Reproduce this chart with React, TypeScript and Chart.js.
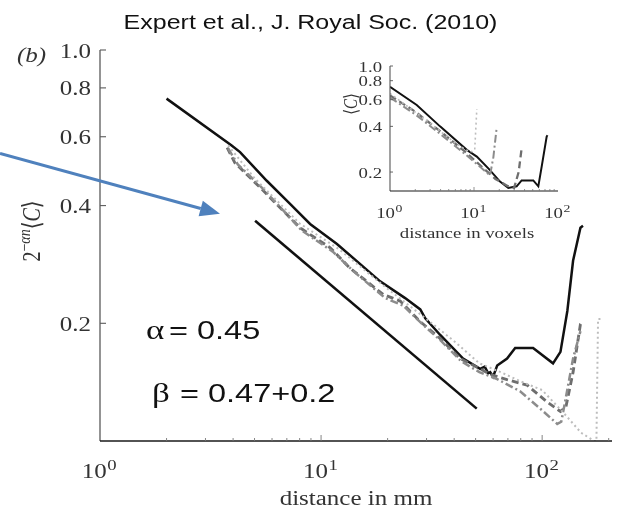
import React, { useEffect, useRef } from "react";
import { Chart, registerables } from "chart.js";

Chart.register(...registerables);

// ---------------- data: main panel ----------------
const MAIN_SOLID_X = [2.0, 3.94, 4.3, 5.68, 7.24, 8.92, 11.8, 18.5, 24, 28.1, 29.6, 34.5, 43.9, 52.4, 55, 57, 58.2, 60, 62.6, 69.4, 75.5, 91, 112, 121, 130, 138, 149, 153];
const MAIN_SOLID_Y = [0.751, 0.57, 0.548, 0.463, 0.404, 0.359, 0.319, 0.256, 0.232, 0.217, 0.206, 0.187, 0.1625, 0.153, 0.155, 0.149, 0.15, 0.146, 0.156, 0.1625, 0.173, 0.173, 0.158, 0.169, 0.215, 0.289, 0.351, 0.355];

const MAIN_DASH_X = [3.76, 4.07, 5.3, 8.03, 11.0, 13.5, 19.1, 22.8, 28.1, 34.5, 42.6, 52.4, 58.2, 69.4, 85.5, 105, 121, 128, 138, 149, 153];
const MAIN_DASH_Y = [0.563, 0.515, 0.445, 0.351, 0.312, 0.277, 0.237, 0.228, 0.202, 0.183, 0.1625, 0.153, 0.148, 0.1435, 0.139, 0.126, 0.119, 0.122, 0.15, 0.199, 0.202];

const MAIN_DASHDOT_X = [3.8, 4.2, 5.5, 8.2, 11.3, 14, 19.5, 23.5, 29, 35, 43, 52, 62.6, 79.5, 98, 117, 122, 127, 138, 149];
const MAIN_DASHDOT_Y = [0.56, 0.51, 0.44, 0.345, 0.305, 0.272, 0.232, 0.222, 0.198, 0.18, 0.16, 0.15, 0.144, 0.134, 0.121, 0.1106, 0.112, 0.126, 0.1625, 0.191];

const MAIN_DOT_X = [3.8, 5, 8, 12, 20, 30, 40, 52, 65, 80, 100, 125, 150, 172, 176, 179, 185];
const MAIN_DOT_Y = [0.57, 0.47, 0.36, 0.31, 0.245, 0.205, 0.18, 0.158, 0.15, 0.142, 0.135, 0.118, 0.105, 0.1, 0.1, 0.205, 0.205];

const FIT_X = [5.03, 50.6];
const FIT_Y = [0.366, 0.121];

const MAIN_Y_TICKS = [0.2, 0.4, 0.6, 0.8, 1.0];
const MAIN_Y_LABELS = ["0.2", "0.4", "0.6", "0.8", "1.0"];
const MAIN_X_MAJOR = [1, 10, 100];
const MAIN_X_EXP = ["0", "1", "2"];
const MAIN_X_MINOR = [2, 3, 4, 5, 6, 7, 8, 9, 20, 30, 40, 50, 60, 70, 80, 90, 200];

const ARROW_FROM = { x: 0.353, y: 0.544 };
const ARROW_TO = { x: 3.49, y: 0.381 };

// ---------------- data: inset ----------------
const IN_SOLID_X = [1, 2.08, 3.94, 8.2, 10.8, 15, 20.4, 25.6, 32.2, 36.9, 50.8, 58.3, 64, 73.3, 75];
const IN_SOLID_Y = [0.73, 0.554, 0.4, 0.28, 0.253, 0.21, 0.173, 0.157, 0.161, 0.176, 0.176, 0.161, 0.218, 0.343, 0.35];
const IN_DASH_X = [1, 2, 4, 8, 12, 18, 25, 30, 34, 37];
const IN_DASH_Y = [0.64, 0.5, 0.37, 0.27, 0.22, 0.18, 0.162, 0.157, 0.2, 0.29];
const IN_DASHDOT_X = [1, 2, 4, 8, 12, 15.5, 17, 18.5];
const IN_DASHDOT_Y = [0.62, 0.48, 0.355, 0.26, 0.215, 0.19, 0.25, 0.38];
const IN_DOT_X = [1, 3, 6, 9, 10.2, 10.8];
const IN_DOT_Y = [0.66, 0.42, 0.31, 0.27, 0.28, 0.52];

const IN_Y_TICKS = [0.2, 0.4, 0.6, 0.8, 1.0];
const IN_Y_LABELS = ["0.2", "0.4", "0.6", "0.8", "1.0"];
const IN_X_MAJOR = [1, 10, 100];
const IN_X_EXP = ["0", "1", "2"];
const IN_X_MINOR = [2, 3, 4, 5, 6, 7, 8, 9, 20, 30, 40, 50, 60, 70, 80, 90];

// ---------------- helpers ----------------
const SX = 1.25; // horizontal stretch of the original figure
const SERIF = '"Liberation Serif", "DejaVu Serif", serif';
const SANS = '"Liberation Sans", Arial, sans-serif';

const pts = (xs: number[], ys: number[]) => xs.map((x, i) => ({ x, y: ys[i] }));

function txt(ctx: CanvasRenderingContext2D, s: string, x: number, y: number, font: string, color: string, align: "left" | "center" | "right" = "left") {
  ctx.save();
  ctx.font = font;
  ctx.fillStyle = color;
  ctx.textBaseline = "alphabetic";
  ctx.textAlign = "left";
  const w = ctx.measureText(s).width * SX;
  const x0 = align === "center" ? x - w / 2 : align === "right" ? x - w : x;
  ctx.translate(x0, y);
  ctx.scale(SX, 1);
  ctx.fillText(s, 0, 0);
  ctx.restore();
  return w;
}

function width(ctx: CanvasRenderingContext2D, s: string, font: string) {
  ctx.save();
  ctx.font = font;
  const w = ctx.measureText(s).width * SX;
  ctx.restore();
  return w;
}

function powLabel(ctx: CanvasRenderingContext2D, exp: string, cx: number, base: number, size: number, supSize: number, rise: number, color: string) {
  const f1 = `${size}px ${SERIF}`;
  const f2 = `${supSize}px ${SERIF}`;
  const w1 = width(ctx, "10", f1);
  const w2 = width(ctx, exp, f2);
  const x0 = cx - (w1 + w2) / 2 - 1;
  txt(ctx, "10", x0, base, f1, color);
  txt(ctx, exp, x0 + w1 + 0.5, base - rise, f2, color);
}

function seg(ctx: CanvasRenderingContext2D, x1: number, y1: number, x2: number, y2: number) {
  ctx.beginPath();
  ctx.moveTo(x1, y1);
  ctx.lineTo(x2, y2);
  ctx.stroke();
}

// rotated label: parts drawn along the rotated baseline
function rotLabel(ctx: CanvasRenderingContext2D, parts: { s: string; font: string; rise: number }[], bx: number, cy: number, color: string) {
  ctx.save();
  ctx.translate(bx, cy);
  ctx.scale(SX, 1);
  ctx.rotate(-Math.PI / 2);
  ctx.fillStyle = color;
  ctx.textBaseline = "alphabetic";
  ctx.textAlign = "left";
  let total = 0;
  const ws = parts.map((p) => {
    ctx.font = p.font;
    const w = ctx.measureText(p.s).width;
    total += w;
    return w;
  });
  let u = -total / 2;
  parts.forEach((p, i) => {
    ctx.font = p.font;
    ctx.fillText(p.s, u, -p.rise);
    u += ws[i];
  });
  ctx.restore();
}

const mainDecor = {
  id: "mainDecor",
  afterDraw(chart: any) {
    const { ctx, chartArea: a, scales } = chart;
    const xs = scales.x;
    const ys = scales.y;
    ctx.save();
    ctx.lineCap = "butt";
    // axes
    ctx.strokeStyle = "#5a5a5a";
    ctx.lineWidth = 1.3;
    seg(ctx, a.left, a.top, a.left, a.bottom);
    ctx.strokeStyle = "#1a1a1a";
    seg(ctx, a.left, a.bottom, a.right, a.bottom);
    // y ticks + labels
    ctx.strokeStyle = "#5a5a5a";
    ctx.lineWidth = 1.1;
    MAIN_Y_TICKS.forEach((v, i) => {
      const py = ys.getPixelForValue(v);
      seg(ctx, a.left, py, a.left + 6, py);
      txt(ctx, MAIN_Y_LABELS[i], a.left - 9, py + 7.5, `20px ${SERIF}`, "#333", "right");
    });
    // x ticks
    ctx.strokeStyle = "#777";
    ctx.lineWidth = 0.9;
    MAIN_X_MINOR.forEach((v) => {
      const px = xs.getPixelForValue(v);
      seg(ctx, px, a.bottom, px, a.bottom - 3);
    });
    MAIN_X_MAJOR.forEach((v, i) => {
      const px = xs.getPixelForValue(v);
      if (i > 0) seg(ctx, px, a.bottom, px, a.bottom - 6);
      powLabel(ctx, MAIN_X_EXP[i], px, 478, 20, 15, 8, "#333");
    });
    // axis titles
    txt(ctx, "distance in mm", (a.left + a.right) / 2, 505, `20px ${SERIF}`, "#333", "center");
    rotLabel(
      ctx,
      [
        { s: "2", font: `20px ${SERIF}`, rise: 0 },
        { s: "\u2212", font: `14px ${SERIF}`, rise: 8 },
        { s: "\u03b1n", font: `italic 14px ${SERIF}`, rise: 8 },
        { s: "\u27e8", font: `20px ${SERIF}`, rise: 0 },
        { s: "C", font: `italic 20px ${SERIF}`, rise: 0 },
        { s: "\u27e9", font: `20px ${SERIF}`, rise: 0 },
      ],
      40,
      231,
      "#333"
    );
    txt(ctx, "(b)", 17, 62, `italic 20px ${SERIF}`, "#333");
    // title
    txt(ctx, "Expert et al., J. Royal Soc. (2010)", 310.5, 29, `20px ${SANS}`, "#111", "center");
    // annotations
    txt(ctx, "\u03b1", 146, 339, `28px ${SERIF}`, "#111");
    txt(ctx, "= 0.45", 169, 339, `26px ${SANS}`, "#111");
    txt(ctx, "\u03b2", 152, 402, `28px ${SERIF}`, "#111");
    txt(ctx, "= 0.47+0.2", 180, 402, `26px ${SANS}`, "#111");
    // arrow
    const x1 = xs.getPixelForValue(ARROW_FROM.x);
    const y1 = ys.getPixelForValue(ARROW_FROM.y);
    const x2 = xs.getPixelForValue(ARROW_TO.x);
    const y2 = ys.getPixelForValue(ARROW_TO.y);
    const ang = Math.atan2(y2 - y1, x2 - x1);
    const hl = 20;
    const hw = 8;
    const bx = x2 - hl * Math.cos(ang);
    const by = y2 - hl * Math.sin(ang);
    ctx.strokeStyle = "#4f81bd";
    ctx.fillStyle = "#4f81bd";
    ctx.lineWidth = 3;
    seg(ctx, x1, y1, bx, by);
    ctx.beginPath();
    ctx.moveTo(x2, y2);
    ctx.lineTo(bx + hw * Math.sin(ang), by - hw * Math.cos(ang));
    ctx.lineTo(bx - hw * Math.sin(ang), by + hw * Math.cos(ang));
    ctx.closePath();
    ctx.fill();
    ctx.restore();
  },
};

const insetDecor = {
  id: "insetDecor",
  afterDraw(chart: any) {
    const { ctx, chartArea: a, scales } = chart;
    const xs = scales.x;
    const ys = scales.y;
    ctx.save();
    ctx.strokeStyle = "#555";
    ctx.lineWidth = 1.1;
    seg(ctx, a.left, a.top, a.left, a.bottom);
    ctx.strokeStyle = "#1a1a1a";
    seg(ctx, a.left, a.bottom, a.right, a.bottom);
    ctx.strokeStyle = "#555";
    ctx.lineWidth = 0.9;
    IN_Y_TICKS.forEach((v, i) => {
      const py = ys.getPixelForValue(v);
      seg(ctx, a.left, py, a.left + 3, py);
      txt(ctx, IN_Y_LABELS[i], a.left - 8, py + 5.5, `15px ${SERIF}`, "#333", "right");
    });
    ctx.strokeStyle = "#777";
    ctx.lineWidth = 0.8;
    IN_X_MINOR.forEach((v) => {
      const px = xs.getPixelForValue(v);
      seg(ctx, px, a.bottom, px, a.bottom - 2);
    });
    IN_X_MAJOR.forEach((v, i) => {
      const px = xs.getPixelForValue(v);
      if (i > 0 && i < IN_X_MAJOR.length - 1) seg(ctx, px, a.bottom, px, a.bottom - 4);
      powLabel(ctx, IN_X_EXP[i], px, a.bottom + 27, 15, 11, 6, "#333");
    });
    txt(ctx, "distance in voxels", (a.left + a.right) / 2 - 7, a.bottom + 47, `15px ${SERIF}`, "#333", "center");
    rotLabel(
      ctx,
      [
        { s: "\u27e8", font: `15px ${SERIF}`, rise: 0 },
        { s: "C", font: `italic 15px ${SERIF}`, rise: 0 },
        { s: "\u27e9", font: `15px ${SERIF}`, rise: 0 },
      ],
      27,
      64,
      "#333"
    );
    ctx.restore();
  },
};

function seriesSet(solid: any[], dash: any[], dashdot: any[], dot: any[], w: number) {
  return [
    { label: "dotted", data: dot, borderColor: "#bdbdbd", borderWidth: w * 0.8, borderDash: [2, 3] },
    { label: "dashdot", data: dashdot, borderColor: "#8c8c8c", borderWidth: w, borderDash: [8, 3, 2, 3] },
    { label: "dashed", data: dash, borderColor: "#6e6e6e", borderWidth: w * 1.15, borderDash: [7, 4] },
    { label: "solid", data: solid, borderColor: "#111", borderWidth: w },
  ];
}

function baseOptions(xmin: number, xmax: number, ymin: number, ymax: number, padding: any) {
  return {
    responsive: false,
    animation: false as const,
    devicePixelRatio: 1,
    layout: { padding },
    elements: { point: { radius: 0 }, line: { tension: 0, borderCapStyle: "butt" } },
    plugins: { legend: { display: false }, tooltip: { enabled: false } },
    scales: {
      x: { type: "logarithmic", min: xmin, max: xmax, display: false },
      y: { type: "logarithmic", min: ymin, max: ymax, display: false },
    },
  };
}

export default function App() {
  const mainRef = useRef<HTMLCanvasElement>(null);
  const insetRef = useRef<HTMLCanvasElement>(null);

  useEffect(() => {
    const mainDatasets = [
      ...seriesSet(pts(MAIN_SOLID_X, MAIN_SOLID_Y), pts(MAIN_DASH_X, MAIN_DASH_Y), pts(MAIN_DASHDOT_X, MAIN_DASHDOT_Y), pts(MAIN_DOT_X, MAIN_DOT_Y), 2.5),
      { label: "fit", data: pts(FIT_X, FIT_Y), borderColor: "#111", borderWidth: 2.6 },
    ];
    const c1 = new Chart(mainRef.current as HTMLCanvasElement, {
      type: "line",
      data: { datasets: mainDatasets as any },
      options: baseOptions(1, 207, 0.1, 1.0, { left: 100, top: 50, right: 7, bottom: 80 }) as any,
      plugins: [mainDecor],
    });
    const c2 = new Chart(insetRef.current as HTMLCanvasElement, {
      type: "line",
      data: {
        datasets: seriesSet(pts(IN_SOLID_X, IN_SOLID_Y), pts(IN_DASH_X, IN_DASH_Y), pts(IN_DASHDOT_X, IN_DASHDOT_Y), pts(IN_DOT_X, IN_DOT_Y), 2) as any,
      },
      options: baseOptions(1, 100, 0.15, 1.0, { left: 60, top: 26, right: 12, bottom: 59 }) as any,
      plugins: [insetDecor],
    });
    return () => {
      c1.destroy();
      c2.destroy();
    };
  }, []);

  return (
    <div style={{ position: "fixed", left: 0, top: 0, width: 619, height: 521, background: "#fff" }}>
      <canvas ref={mainRef} width={619} height={521} style={{ position: "absolute", left: 0, top: 0 }} />
      <canvas ref={insetRef} width={240} height={210} style={{ position: "absolute", left: 330, top: 40 }} />
    </div>
  );
}
